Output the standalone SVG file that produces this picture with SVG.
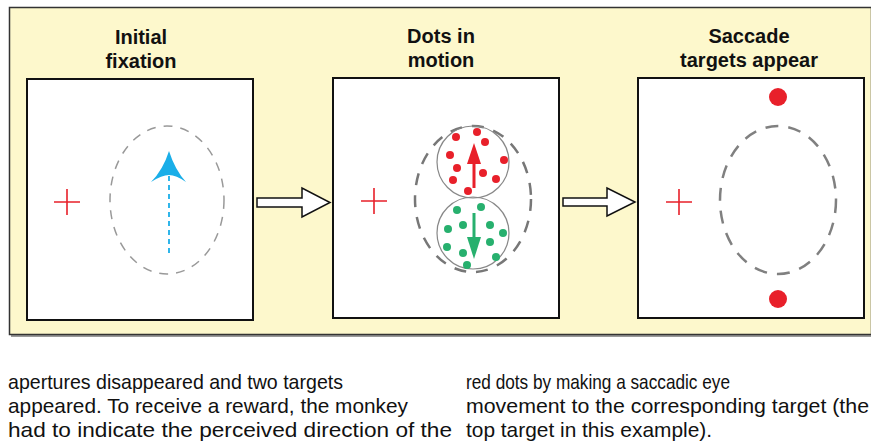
<svg xmlns="http://www.w3.org/2000/svg" width="871" height="442" viewBox="0 0 871 442">
<style>
.title{font-family:"Liberation Sans",Arial,sans-serif;font-weight:bold;font-size:20px;fill:#111;text-anchor:middle}
.body{font-family:"Liberation Sans",Arial,sans-serif;font-size:21px;fill:#111}
.panel{fill:#fff;stroke:#111;stroke-width:2}
.cross{stroke:#e8202a;stroke-width:1.6;fill:none}
.conn{fill:#fff;stroke:#111;stroke-width:1.5;stroke-linejoin:miter}
.rd{fill:#e8202a}
.gd{fill:#27b06e}
</style>
<rect x="0" y="0" width="871" height="442" fill="#fff"/>
<g id="background">
<rect x="11" y="9" width="862" height="328" fill="#9a9a9a"/>
<rect x="9.5" y="7.5" width="862" height="327" fill="#fdf8cc" stroke="#333" stroke-width="1.5"/>
</g>
<g id="panel1">
<text class="title" x="141" y="44">Initial</text>
<text class="title" x="141" y="68">fixation</text>
<rect class="panel" x="27" y="79" width="226" height="241"/>
<path class="cross" d="M54 202H80M67 189V215"/>
<ellipse cx="167" cy="200" rx="57" ry="74" fill="none" stroke="#999" stroke-width="1.5" stroke-dasharray="9 8"/>
<line x1="169" y1="176" x2="169" y2="256" stroke="#1aaee8" stroke-width="1.8" stroke-dasharray="5 4"/>
<path d="M169 151 Q175 170 186 182 Q176 175 169 175 Q162 175 151 182 Q163 170 169 151Z" fill="#1aaee8"/>
</g>
<g id="panel2">
<text class="title" x="441" y="43">Dots in</text>
<text class="title" x="441" y="67">motion</text>
<rect class="panel" x="333" y="78" width="226" height="240"/>
<path class="cross" d="M361 201H387M374 188V214"/>
<ellipse cx="473" cy="199" rx="58" ry="73" fill="none" stroke="#777" stroke-width="2.5" stroke-dasharray="12 10"/>
<circle cx="473" cy="162" r="36" fill="none" stroke="#888" stroke-width="1.2"/>
<circle cx="473" cy="233" r="36" fill="none" stroke="#888" stroke-width="1.2"/>
<g class="rd">
<circle cx="456" cy="137" r="4"/><circle cx="477" cy="132" r="4"/><circle cx="485" cy="142" r="4"/>
<circle cx="450" cy="155" r="4"/><circle cx="504" cy="160" r="4"/><circle cx="457" cy="168" r="4"/>
<circle cx="483" cy="173" r="4"/><circle cx="453" cy="180" r="4"/><circle cx="496" cy="179" r="4"/>
<circle cx="468" cy="191" r="4"/>
</g>
<line x1="474" y1="188" x2="474" y2="160" stroke="#e8202a" stroke-width="3"/>
<path d="M474 143 L481 164 L467 164Z" fill="#e8202a"/>
<g class="gd">
<circle cx="457" cy="210" r="4"/><circle cx="481" cy="207" r="4"/><circle cx="448" cy="229" r="4"/>
<circle cx="463" cy="225" r="4"/><circle cx="490" cy="225" r="4"/><circle cx="503" cy="233" r="4"/>
<circle cx="447" cy="247" r="4"/><circle cx="490" cy="242" r="4"/><circle cx="463" cy="253" r="4"/>
<circle cx="496" cy="257" r="4"/><circle cx="467" cy="265" r="4"/>
</g>
<line x1="474" y1="213" x2="474" y2="240" stroke="#27b06e" stroke-width="3"/>
<path d="M474 259 L481 237 L467 237Z" fill="#27b06e"/>
</g>
<g id="panel3">
<text class="title" x="749" y="43">Saccade</text>
<text class="title" x="749" y="67">targets appear</text>
<rect class="panel" x="638" y="78" width="226" height="240"/>
<path class="cross" d="M666 202H692M679 189V215"/>
<ellipse cx="778" cy="200" rx="58" ry="74" fill="none" stroke="#808080" stroke-width="2.5" stroke-dasharray="13 10"/>
<circle cx="778" cy="97" r="9" fill="#e8202a"/>
<circle cx="778" cy="299" r="9" fill="#e8202a"/>
</g>
<g id="connectors">
<path class="conn" d="M257 198H302V188L330 202.5L302 217V207H257Z"/>
<path class="conn" d="M563 198H607V188L635 202L607 216V206H563Z"/>
</g>
<g id="caption">
<text class="body" x="8" y="389" textLength="335" lengthAdjust="spacingAndGlyphs">apertures disappeared and two targets</text>
<text class="body" x="8" y="413" textLength="400" lengthAdjust="spacingAndGlyphs">appeared. To receive a reward, the monkey</text>
<text class="body" x="8" y="437" textLength="444" lengthAdjust="spacingAndGlyphs">had to indicate the perceived direction of the</text>
<text class="body" x="466" y="389" textLength="264" lengthAdjust="spacingAndGlyphs">red dots by making a saccadic eye</text>
<text class="body" x="466" y="413" textLength="403" lengthAdjust="spacingAndGlyphs">movement to the corresponding target (the</text>
<text class="body" x="466" y="437" textLength="246" lengthAdjust="spacingAndGlyphs">top target in this example).</text>
</g>
</svg>
